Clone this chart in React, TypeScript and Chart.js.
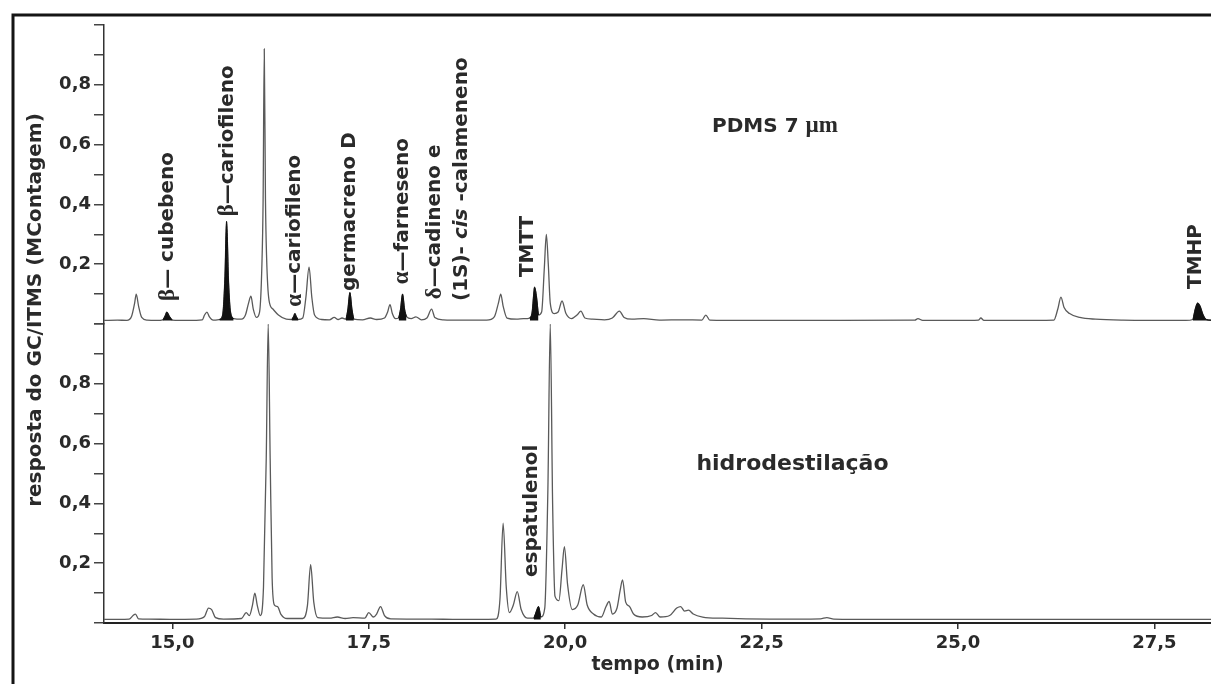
import React, { useEffect, useRef } from 'react';
import { Chart, registerables } from 'chart.js';

Chart.register(...registerables);

// Retention-time window shown on the x axis (min)
const TIME_MIN = 14.13;
const TIME_MAX = 28.22;
const timeTicks = [15, 17.5, 20, 22.5, 25, 27.5];

// Response axis ticks (MContagem); only some of them carry a label
const responseTicks = [0, 0.1, 0.2, 0.3, 0.4, 0.5, 0.6, 0.7, 0.8, 0.9, 1.0];
const responseTickLabels = [0.2, 0.4, 0.6, 0.8];

// PDMS 7 µm fibre chromatogram: [time (min), response]
const pdmsTrace: [number, number][] = [
  [14.13, 0.012], [14.3, 0.013], [14.42, 0.012], [14.48, 0.025], [14.52, 0.07], [14.54, 0.1],
  [14.57, 0.06], [14.61, 0.022], [14.68, 0.013], [14.8, 0.012], [14.88, 0.014], [14.91, 0.028],
  [14.93, 0.04], [14.96, 0.026], [15.0, 0.013], [15.2, 0.012], [15.38, 0.014], [15.41, 0.03],
  [15.44, 0.04], [15.47, 0.025], [15.52, 0.013], [15.6, 0.015], [15.64, 0.03], [15.67, 0.16],
  [15.69, 0.343], [15.715, 0.14], [15.74, 0.04], [15.78, 0.018], [15.88, 0.016], [15.93, 0.03],
  [15.97, 0.07], [16.0, 0.093], [16.03, 0.05], [16.07, 0.022], [16.11, 0.04], [16.14, 0.2],
  [16.155, 0.41], [16.17, 0.92], [16.185, 0.42], [16.2, 0.22], [16.23, 0.08], [16.28, 0.05],
  [16.35, 0.03], [16.45, 0.016], [16.52, 0.015], [16.545, 0.026], [16.56, 0.035], [16.575, 0.026],
  [16.6, 0.015], [16.66, 0.02], [16.7, 0.09], [16.74, 0.19], [16.775, 0.09], [16.81, 0.03],
  [16.9, 0.015], [17.0, 0.014], [17.06, 0.022], [17.11, 0.015], [17.16, 0.02], [17.21, 0.016],
  [17.235, 0.05], [17.26, 0.105], [17.285, 0.05], [17.31, 0.016], [17.42, 0.014], [17.52, 0.02],
  [17.6, 0.015], [17.7, 0.02], [17.74, 0.04], [17.77, 0.065], [17.8, 0.035], [17.84, 0.018],
  [17.88, 0.02], [17.905, 0.05], [17.93, 0.1], [17.955, 0.05], [17.98, 0.025], [18.04, 0.018],
  [18.1, 0.024], [18.17, 0.014], [18.24, 0.02], [18.3, 0.05], [18.34, 0.022], [18.45, 0.014],
  [18.7, 0.013], [19.0, 0.013], [19.1, 0.025], [19.15, 0.07], [19.18, 0.1], [19.21, 0.06],
  [19.26, 0.02], [19.38, 0.016], [19.47, 0.018], [19.55, 0.02], [19.58, 0.04], [19.6, 0.1],
  [19.61, 0.123], [19.635, 0.09], [19.66, 0.03], [19.7, 0.04], [19.735, 0.19], [19.76, 0.3],
  [19.785, 0.2], [19.81, 0.07], [19.86, 0.035], [19.91, 0.04], [19.96, 0.077], [20.01, 0.035],
  [20.08, 0.018], [20.15, 0.03], [20.2, 0.043], [20.25, 0.02], [20.35, 0.016], [20.5, 0.014],
  [20.6, 0.02], [20.69, 0.043], [20.75, 0.022], [20.85, 0.016], [21.0, 0.018], [21.2, 0.013],
  [21.5, 0.014], [21.74, 0.013], [21.79, 0.03], [21.84, 0.013], [22.3, 0.012], [23.5, 0.012],
  [24.45, 0.013], [24.49, 0.018], [24.55, 0.012], [25.0, 0.012], [25.26, 0.013], [25.29, 0.02],
  [25.33, 0.012], [25.7, 0.012], [26.22, 0.013], [26.27, 0.05], [26.31, 0.09], [26.35, 0.055],
  [26.42, 0.035], [26.55, 0.022], [26.75, 0.016], [27.1, 0.013], [27.9, 0.012], [27.99, 0.015],
  [28.02, 0.05], [28.05, 0.07], [28.08, 0.06], [28.12, 0.03], [28.16, 0.015], [28.22, 0.013],
];

// Hydrodistillation chromatogram: [time (min), response]
const hydroTrace: [number, number][] = [
  [14.13, 0.012], [14.45, 0.013], [14.5, 0.025], [14.53, 0.03], [14.57, 0.014], [14.7, 0.013],
  [15.0, 0.012], [15.3, 0.013], [15.41, 0.022], [15.46, 0.05], [15.5, 0.045], [15.55, 0.018],
  [15.65, 0.013], [15.88, 0.015], [15.94, 0.035], [15.98, 0.025], [16.02, 0.06], [16.05, 0.1],
  [16.08, 0.06], [16.12, 0.025], [16.16, 0.12], [16.195, 0.55], [16.22, 1.0], [16.245, 0.55],
  [16.27, 0.15], [16.3, 0.06], [16.34, 0.055], [16.38, 0.03], [16.46, 0.015], [16.66, 0.015],
  [16.72, 0.06], [16.76, 0.195], [16.8, 0.07], [16.85, 0.018], [17.0, 0.016], [17.1, 0.02],
  [17.2, 0.015], [17.3, 0.018], [17.45, 0.016], [17.5, 0.035], [17.56, 0.02], [17.6, 0.03],
  [17.65, 0.055], [17.7, 0.025], [17.78, 0.014], [18.3, 0.013], [18.6, 0.012], [19.12, 0.013],
  [19.17, 0.08], [19.21, 0.334], [19.25, 0.12], [19.29, 0.035], [19.34, 0.06], [19.39, 0.105],
  [19.44, 0.045], [19.52, 0.016], [19.6, 0.016], [19.635, 0.04], [19.66, 0.055], [19.69, 0.02],
  [19.74, 0.05], [19.78, 0.45], [19.81, 1.0], [19.84, 0.4], [19.87, 0.09], [19.92, 0.075],
  [19.96, 0.18], [19.99, 0.255], [20.03, 0.13], [20.09, 0.045], [20.16, 0.06], [20.23, 0.128],
  [20.28, 0.06], [20.36, 0.03], [20.46, 0.02], [20.52, 0.055], [20.56, 0.072], [20.6, 0.03],
  [20.66, 0.05], [20.7, 0.11], [20.73, 0.144], [20.77, 0.07], [20.82, 0.055], [20.87, 0.03],
  [20.98, 0.02], [21.1, 0.025], [21.15, 0.035], [21.21, 0.02], [21.33, 0.025], [21.42, 0.05],
  [21.47, 0.055], [21.52, 0.04], [21.57, 0.043], [21.63, 0.03], [21.75, 0.02], [22.0, 0.016],
  [22.6, 0.013], [23.25, 0.014], [23.33, 0.018], [23.42, 0.013], [24.0, 0.012], [28.22, 0.012],
];

// Identified compounds, shaded black: [start, end] of each peak (min)
const pdmsMarkedPeaks: [number, number][] = [
  [14.88, 15.0], [15.6, 15.78], [16.52, 16.6], [17.21, 17.31], [17.88, 17.98], [19.55, 19.66], [27.99, 28.22],
];
const hydroMarkedPeaks: [number, number][] = [[19.6, 19.69]];

// Compound names and the retention time / response where each name starts
const pdmsPeakNames = [
  'β— cubebeno', 'β—cariofileno', 'α—cariofileno', 'germacreno D', 'α—farneseno',
  'δ—cadineno e', '(1S)- cis -calameneno', 'TMTT', 'TMHP',
];
const pdmsPeakNameTimes = [14.94, 15.7, 16.56, 17.26, 17.93, 18.34, 18.68, 19.52, 28.03];
const pdmsPeakNameLevels = [0.077, 0.36, 0.058, 0.11, 0.133, 0.083, 0.077, 0.157, 0.117];

const hydroPeakNames = ['espatulenol'];
const hydroPeakNameTimes = [19.57];
const hydroPeakNameLevels = [0.154];

// Panel captions, anchored at their left baseline point (time, response)
const pdmsCaption = { time: 21.87, level: 0.643 };
const hydroCaption = { text: 'hidrodestilação', time: 21.67, level: 0.511 };

const SANS = '"DejaVu Sans", "Liberation Sans", sans-serif';
const SERIF = '"Liberation Serif", "DejaVu Serif", serif';
const INK = '#2a2a2a';

const fmtComma = (v: number) => v.toFixed(1).replace('.', ',');

type Seg = [string, string];

function nameSegments(text: string): Seg[] {
  return text
    .split(/(cis|[αβδ])/)
    .filter((p) => p.length > 0)
    .map((p): Seg => {
      if (p === 'cis') return [p, `italic bold 20px ${SANS}`];
      if (/[αβδ]/.test(p)) return [p, `bold 23px ${SERIF}`];
      return [p, `bold 20px ${SANS}`];
    });
}

function drawSegments(ctx: CanvasRenderingContext2D, segs: Seg[]) {
  let off = 0;
  for (const [txt, font] of segs) {
    ctx.font = font;
    ctx.fillText(txt, off, 0);
    off += ctx.measureText(txt).width;
  }
}

function drawUpright(ctx: CanvasRenderingContext2D, x: number, y: number, segs: Seg[]) {
  ctx.save();
  ctx.translate(x, y);
  ctx.rotate(-Math.PI / 2);
  ctx.textAlign = 'left';
  ctx.textBaseline = 'middle';
  drawSegments(ctx, segs);
  ctx.restore();
}

const toPoints = (trace: [number, number][]) => trace.map(([x, y]) => ({ x, y }));

const markedDatasets = (trace: [number, number][], peaks: [number, number][], axis: string) =>
  peaks.map(([a, b]) => ({
    data: toPoints(trace.filter(([t]) => t >= a && t <= b)),
    yAxisID: axis,
    borderColor: '#111',
    backgroundColor: '#111',
    borderWidth: 1,
    cubicInterpolationMode: 'monotone',
    fill: { value: 0.012 },
    order: 0,
  }));

const decorations = {
  id: 'decorations',
  beforeDraw(chart: any) {
    const { ctx, width, height } = chart;
    ctx.save();
    ctx.fillStyle = '#ffffff';
    ctx.fillRect(0, 0, width, height);
    ctx.restore();
  },
  afterDraw(chart: any) {
    const { ctx, chartArea, scales } = chart;
    const x = scales.x;
    const yTop = scales.yTop;
    const yBot = scales.yBot;

    ctx.save();
    // outer frame
    ctx.strokeStyle = '#151515';
    ctx.lineWidth = 3;
    ctx.strokeRect(13, 15, 3000, 3000);

    ctx.fillStyle = INK;

    // shared response axis title
    ctx.save();
    ctx.translate(chartArea.left - 68, (chartArea.top + chartArea.bottom) / 2 - 14);
    ctx.rotate(-Math.PI / 2);
    ctx.font = `bold 20px ${SANS}`;
    ctx.textAlign = 'center';
    ctx.textBaseline = 'middle';
    ctx.fillText('resposta do GC/ITMS (MContagem)', 0, 0);
    ctx.restore();

    // compound names
    pdmsPeakNames.forEach((name, i) => {
      drawUpright(
        ctx,
        x.getPixelForValue(pdmsPeakNameTimes[i]),
        yTop.getPixelForValue(pdmsPeakNameLevels[i]),
        nameSegments(name),
      );
    });
    hydroPeakNames.forEach((name, i) => {
      drawUpright(
        ctx,
        x.getPixelForValue(hydroPeakNameTimes[i]),
        yBot.getPixelForValue(hydroPeakNameLevels[i]),
        nameSegments(name),
      );
    });

    // panel captions
    ctx.textAlign = 'left';
    ctx.textBaseline = 'alphabetic';
    ctx.save();
    ctx.translate(x.getPixelForValue(pdmsCaption.time), yTop.getPixelForValue(pdmsCaption.level));
    drawSegments(ctx, [
      ['PDMS 7 ', `bold 20px ${SANS}`],
      ['µm', `bold 23px ${SERIF}`],
    ]);
    ctx.restore();

    ctx.font = `bold 22px ${SANS}`;
    ctx.fillText(
      hydroCaption.text,
      x.getPixelForValue(hydroCaption.time),
      yBot.getPixelForValue(hydroCaption.level),
    );
    ctx.restore();
  },
};

const responseAxis = () => ({
  type: 'linear' as const,
  position: 'left' as const,
  stack: 'gc',
  stackWeight: 1,
  min: 0,
  max: 1,
  afterBuildTicks: (s: any) => {
    s.ticks = responseTicks.map((value) => ({ value }));
  },
  afterFit: (s: any) => {
    s.width = 104;
  },
  ticks: {
    autoSkip: false,
    padding: 3,
    color: INK,
    font: { family: SANS, size: 18, weight: 'bold' as const },
    callback: (v: any) =>
      responseTickLabels.some((l) => Math.abs(l - Number(v)) < 1e-6) ? fmtComma(Number(v)) : '',
  },
  grid: { drawOnChartArea: false, drawTicks: true, tickLength: 10, color: '#444', lineWidth: 1.5 },
  border: { display: true, color: '#333', width: 1.5 },
});

const traceStyle = {
  borderColor: '#5a5a5a',
  borderWidth: 1.3,
  cubicInterpolationMode: 'monotone',
  fill: false,
  order: 1,
};

export default function App() {
  const ref = useRef<HTMLCanvasElement>(null);

  useEffect(() => {
    const canvas = ref.current;
    if (!canvas) return;
    const chart = new Chart(canvas, {
      type: 'line',
      data: {
        datasets: [
          ...markedDatasets(pdmsTrace, pdmsMarkedPeaks, 'yTop'),
          ...markedDatasets(hydroTrace, hydroMarkedPeaks, 'yBot'),
          { data: toPoints(pdmsTrace), yAxisID: 'yTop', ...traceStyle },
          { data: toPoints(hydroTrace), yAxisID: 'yBot', ...traceStyle },
        ] as any,
      },
      options: {
        animation: false,
        responsive: false,
        devicePixelRatio: 1,
        layout: { padding: { top: 25, left: 0, right: 0, bottom: 0 } },
        elements: { point: { radius: 0 } },
        plugins: { legend: { display: false }, tooltip: { enabled: false } },
        scales: {
          x: {
            type: 'linear',
            min: TIME_MIN,
            max: TIME_MAX,
            afterBuildTicks: (s: any) => {
              s.ticks = timeTicks.map((value) => ({ value }));
            },
            afterFit: (s: any) => {
              s.height = 61;
            },
            ticks: {
              autoSkip: false,
              maxRotation: 0,
              padding: 4,
              color: INK,
              font: { family: SANS, size: 18, weight: 'bold' },
              callback: (v: any) => fmtComma(Number(v)),
            },
            grid: { drawOnChartArea: false, drawTicks: true, tickLength: 6, color: '#333', lineWidth: 1.5 },
            border: { display: true, color: '#222', width: 2 },
            title: {
              display: true,
              text: 'tempo (min)',
              color: INK,
              font: { family: SANS, size: 19, weight: 'bold' },
              padding: { top: 0, bottom: 8 },
            },
          },
          yBot: responseAxis(),
          yTop: responseAxis(),
        } as any,
      },
      plugins: [decorations],
    });
    return () => chart.destroy();
  }, []);

  return (
    <div style={{ position: 'fixed', left: 0, top: 0, width: 1211, height: 684, background: '#fff' }}>
      <canvas ref={ref} width={1211} height={684} style={{ display: 'block' }} />
    </div>
  );
}
